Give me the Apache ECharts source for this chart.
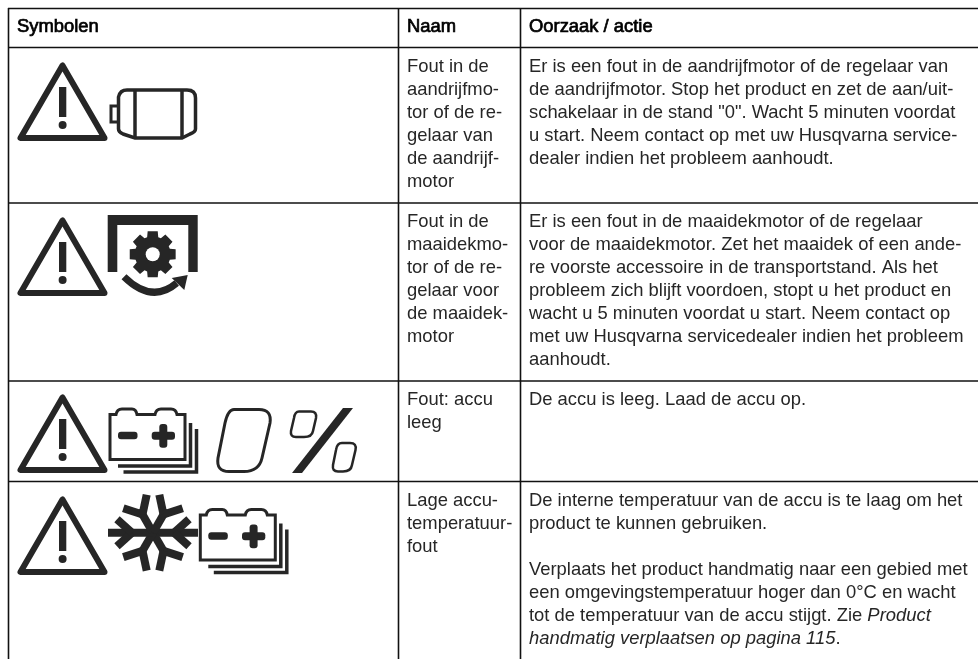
<!DOCTYPE html>
<html><head><meta charset="utf-8">
<style>html,body{margin:0;padding:0;background:#fff}#c{width:978px;height:659px}</style>
<script src="https://cdn.jsdelivr.net/npm/echarts@6/dist/echarts.min.js"></script>
</head><body><div id="c"></div>
<script>
const headers = ['Symbolen', 'Naam', 'Oorzaak / actie'];
const names = [
  ['Fout in de', 'aandrijfmo-', 'tor of de re-', 'gelaar van', 'de aandrijf-', 'motor'],
  ['Fout in de', 'maaidekmo-', 'tor of de re-', 'gelaar voor', 'de maaidek-', 'motor'],
  ['Fout: accu', 'leeg'],
  ['Lage accu-', 'temperatuur-', 'fout']
];
const actions = [
  ['Er is een fout in de aandrijfmotor of de regelaar van', 'de aandrijfmotor. Stop het product en zet de aan/uit-', 'schakelaar in de stand "0". Wacht 5 minuten voordat', 'u start. Neem contact op met uw Husqvarna service-', 'dealer indien het probleem aanhoudt.'],
  ['Er is een fout in de maaidekmotor of de regelaar', 'voor de maaidekmotor. Zet het maaidek of een ande-', 're voorste accessoire in de transportstand. Als het', 'probleem zich blijft voordoen, stopt u het product en', 'wacht u 5 minuten voordat u start. Neem contact op', 'met uw Husqvarna servicedealer indien het probleem', 'aanhoudt.'],
  ['De accu is leeg. Laad de accu op.'],
  ['De interne temperatuur van de accu is te laag om het', 'product te kunnen gebruiken.', '', 'Verplaats het product handmatig naar een gebied met', 'een omgevingstemperatuur hoger dan 0°C en wacht', 'tot de temperatuur van de accu stijgt. Zie |Product', '|handmatig verplaatsen op pagina 115|.']
];
const rowTops = [47.5, 203, 381, 481.5];
const firstLine = [67, 222, 400, 501];
const INK = '#262626', LINE = '#111';
const els = [];
const FONT = '"Liberation Sans", Arial, sans-serif';
const FS = 18.4, LH = 23;

function ln(x1, y1, x2, y2, w, c) {
  els.push({type: 'line', shape: {x1, y1, x2, y2}, style: {stroke: c || LINE, lineWidth: w || 1.6}});
}
function txt(x, y, s, bold) {
  const parts = s.split('|');
  let text = s;
  const rich = {n: {fontSize: FS, fontFamily: FONT, fill: INK}, i: {fontSize: FS, fontFamily: FONT, fill: INK, fontStyle: 'italic'}};
  if (parts.length > 1) {
    text = parts.map((p, k) => p === '' ? '' : `{${k % 2 ? 'i' : 'n'}|${p}}`).join('');
  }
  els.push({type: 'text', x, y, style: {
    text, x: 0, y: 0, fill: bold ? '#000' : INK, font: `${FS}px ${FONT}`, verticalAlign: 'middle', align: 'left',
    rich: parts.length > 1 ? rich : undefined,
    stroke: bold ? '#000' : undefined, lineWidth: bold ? 0.7 : 0
  }});
}
function svg(d, w) {
  els.push({type: 'path', shape: {pathData: d}, style: {fill: 'none', stroke: INK, lineWidth: w}});
}
function poly(points, st, closed) {
  els.push({type: closed === false ? 'polyline' : 'polygon', shape: {points}, style: Object.assign({fill: closed === false ? 'none' : INK}, st || {})});
}
function stroked(points, w, closed, join, cap) {
  poly(points, {fill: 'none', stroke: INK, lineWidth: w, lineJoin: join || 'miter', lineCap: cap || 'butt'}, closed);
}
function rect(x, y, width, height, r) {
  els.push({type: 'rect', shape: {x, y, width, height, r: r || 0}, style: {fill: INK}});
}

function warning(dy) {
  stroked([[62.5, 65.5 + dy], [20.5, 138 + dy], [104.5, 138 + dy]], 6, true, 'round');
  rect(59, 87 + dy, 7.3, 30);
  els.push({type: 'circle', shape: {cx: 62.6, cy: 125 + dy, r: 4}, style: {fill: INK}});
}
function battery(dx, dy) {
  const P = (a) => a.map(p => [p[0] + dx, p[1] + dy]);
  els.push({type: 'group', x: dx, y: dy, children: [{type: 'path', shape: {pathData: 'M110 459.5 L110 414.5 L116 414.5 Q117 409 122 409 L132 409 Q136 409 137 414.5 L155 414.5 Q156 409 161 409 L171 409 Q176 409 177 414.5 L185 414.5 L185 459.5 Z'}, style: {fill: 'none', stroke: INK, lineWidth: 3}}]});
  stroked(P([[118, 466], [190.5, 466], [190.5, 423]]), 3.5, false);
  stroked(P([[123.5, 472], [196.5, 472], [196.5, 429]]), 3.5, false);
  rect(118 + dx, 431.7 + dy, 19.5, 7.6, 3);
  rect(151.7 + dx, 431.7 + dy, 23.3, 8, 3);
  rect(159.3 + dx, 424 + dy, 8, 23.7, 3);
}
function gear(cx, cy) {
  const pts = [], n = 8, R = 23.5, r = 18;
  for (let i = 0; i < n; i++) {
    const a = (i / n) * Math.PI * 2 - Math.PI / 2, s = Math.PI / n;
    pts.push([a - s * 0.55, R], [a + s * 0.55, R], [a + s * 0.8, r], [a + s * 1.2, r]);
  }
  poly(pts.map(p => [cx + p[1] * Math.cos(p[0]), cy + p[1] * Math.sin(p[0])]));
  els.push({type: 'circle', shape: {cx, cy, r: 7}, style: {fill: '#fff'}});
}
function snowflake(cx, cy) {
  for (let i = 0; i < 6; i++) {
    const a = i * Math.PI / 3, c = Math.cos(a), s = Math.sin(a);
    const T = (x, y) => [cx + x * c - y * s, cy + x * s + y * c];
    stroked([T(0, 0), T(i % 3 === 0 ? 45 : 27, 0)], 8, false);
    stroked([T(21, 0), T(36, -13.5)], 8, false, 'round');
    stroked([T(21, 0), T(36, 13.5)], 8, false, 'round');
  }
}

// grid lines
ln(8, 8.5, 978, 8.5);
rowTops.forEach(y => ln(8, y, 978, y));
ln(8.5, 8, 8.5, 659);
ln(398.5, 8, 398.5, 659);
ln(520.5, 8, 520.5, 659);

// text
[[17, 0], [407, 1], [529, 2]].forEach(([x, i]) => txt(x, 27, headers[i], true));
names.forEach((lines, r) => lines.forEach((s, k) => txt(407, firstLine[r] + k * LH, s)));
actions.forEach((lines, r) => lines.forEach((s, k) => { if (s) txt(529, firstLine[r] + k * LH, s); }));

// row 1 icon: motor
warning(0);
svg('M118.5 97 Q120 90 127 90 L187 90 Q195.5 90 195.5 98 L195.5 129 Q195.5 132 190 134 L182 138 L135 138 L123 134 Q118.5 132 118.5 129 Z', 3.5);
ln(135, 90, 135, 138, 3.5, INK);
ln(182, 90, 182, 138, 3.5, INK);
stroked([[117, 106], [111, 106], [111, 122], [117, 122]], 3, false);

// row 2 icon: deck motor
warning(155);
poly([[107.7, 215], [197.7, 215], [197.7, 272], [188.3, 272], [188.3, 225], [117.3, 225], [117.3, 272], [107.7, 272]]);
gear(152.7, 254.3);
svg('M124 276.7 Q152 304.2 176.7 283', 7);
poly([[187.7, 275], [184.3, 290], [171.7, 278]]);

// row 3 icon: empty battery
warning(332);
battery(0, 0);
svg('M234 409.5 L259 409.5 Q272 409.5 270 423 L262 458 Q259 471.5 244 471.5 L229 471.5 Q216 471.5 218 458 L225 423 Q228 409.5 234 409.5 Z', 3);
svg('M299 411.5 L311 411.5 Q317 411.5 316 418 L313 431 Q312 437 304 437 L296 437 Q290 437 291 431 L294 418 Q295 411.5 299 411.5 Z', 2.5);
svg('M342 443 L350 443 Q357 443 355.5 450 L352 465 Q351 471.5 343 471.5 L338 471.5 Q332 471.5 333 465 L336 450 Q337 443 342 443 Z', 2.5);
poly([[343, 408], [353, 408], [302, 473], [292, 473]]);

// row 4 icon: cold battery
warning(434);
snowflake(153, 532.7);
battery(90.3, 100.5);

const chart = echarts.init(document.getElementById('c'), null, {renderer: 'canvas'});
chart.setOption({
  animation: false,
  backgroundColor: '#fff',
  series: [{
    type: 'custom',
    coordinateSystem: 'none',
    silent: true,
    data: [[0]],
    renderItem: () => ({type: 'group', children: els})
  }]
});
</script></body></html>
